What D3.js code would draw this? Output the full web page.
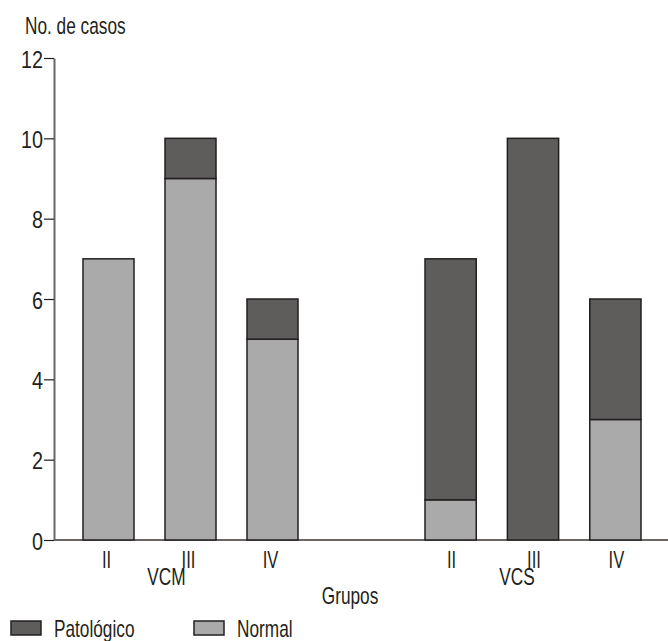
<!DOCTYPE html>
<html><head><meta charset="utf-8">
<script src="https://cdn.jsdelivr.net/npm/d3@7"></script>
<style>
body{margin:0;background:#fff;}
text{fill:#231f20;}
</style></head><body>
<svg id="c" width="668" height="641"></svg>
<script>
const groups = ["VCM", "VCS"];
const categories = ["II", "III", "IV"];
const normal = [[7, 9, 5], [1, 0, 3]];
const patologico = [[0, 1, 1], [6, 10, 3]];
const yTicks = [0, 2, 4, 6, 8, 10, 12];
const seriesNames = ["Patológico", "Normal"];
const colors = {"Patológico": "#5e5d5b", "Normal": "#aaaaaa"};

const FS = 23;
const svg = d3.select("#c");
function label(x, y, t, anchor, sx) {
  return svg.append("text")
    .attr("transform", `translate(${x},${y}) scale(${sx || 0.75},1)`)
    .attr("text-anchor", anchor || "start")
    .attr("font-family", "Liberation Sans, Arial, sans-serif")
    .attr("font-size", FS).text(t);
}

const y = d3.scaleLinear().domain([0, 12]).range([540, 58]);
const gx = {VCM: [83, 298], VCS: [425, 641]};
const groupLabelShift = {VCM: -24, VCS: -16};
const xCat = {};
groups.forEach(g => {
  xCat[g] = d3.scaleBand().domain(categories).range(gx[g]).paddingInner(0.378).paddingOuter(0);
});

// axes
svg.append("line").attr("x1", 54).attr("x2", 668).attr("y1", y(0)).attr("y2", y(0))
  .attr("stroke", "#6a6663").attr("stroke-width", 2);
const yAxis = d3.axisLeft(y).tickValues(yTicks).tickSize(10).tickSizeOuter(0).tickFormat("");
const ya = svg.append("g").attr("transform", "translate(54,0)").call(yAxis);
ya.select(".domain").attr("stroke", "#6a6663").attr("stroke-width", 2);
ya.selectAll(".tick line").attr("stroke", "#231f20").attr("stroke-width", 1.2);
yTicks.forEach(t => label(43, y(t) + 9.5, String(t), "end", 0.86));

// bars
groups.forEach((g, gi) => {
  const xs = xCat[g];
  categories.forEach((c, ci) => {
    const n = normal[gi][ci], p = patologico[gi][ci];
    const x0 = xs(c), w = xs.bandwidth();
    if (n > 0) svg.append("rect").attr("x", x0).attr("width", w)
      .attr("y", y(n)).attr("height", y(0) - y(n))
      .attr("fill", colors["Normal"]).attr("stroke", "#231f20").attr("stroke-width", 1.5);
    if (p > 0) svg.append("rect").attr("x", x0).attr("width", w)
      .attr("y", y(n + p)).attr("height", y(n) - y(n + p))
      .attr("fill", colors["Patológico"]).attr("stroke", "#231f20").attr("stroke-width", 1.5);
    label(x0 + w / 2 + (gi === 0 ? -2 : 1), 568, c, "middle", 0.72);
  });
  const mid = (xs.range()[0] + xs.range()[1]) / 2;
  label(mid + groupLabelShift[g], 585, g, "middle");
});

label(350, 604, "Grupos", "middle");
label(25, 34, "No. de casos");

// legend
const leg = [{name: "Patológico", x: 11, tx: 54}, {name: "Normal", x: 194, tx: 237}];
leg.forEach(l => {
  svg.append("rect").attr("x", l.x).attr("y", 621).attr("width", 30).attr("height", 14)
    .attr("fill", colors[l.name]).attr("stroke", "#231f20").attr("stroke-width", 1.5);
  label(l.tx, 637, l.name);
});
</script></body></html>
